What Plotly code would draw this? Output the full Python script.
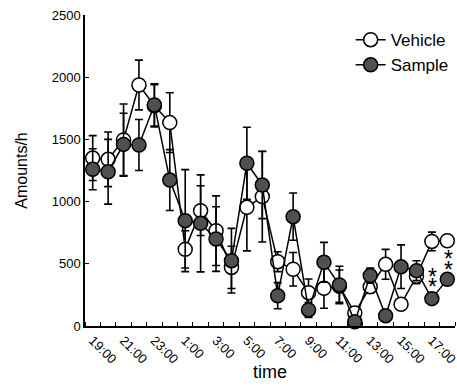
import plotly.graph_objects as go

hours = ["19:00", "20:00", "21:00", "22:00", "23:00", "0:00", "1:00", "2:00",
         "3:00", "4:00", "5:00", "6:00", "7:00", "8:00", "9:00", "10:00",
         "11:00", "12:00", "13:00", "14:00", "15:00", "16:00", "17:00", "18:00"]

vehicle = [1350, 1340, 1495, 1937, 1770, 1635, 616, 927, 766, 471, 954, 1040,
           517, 456, 268, 303, 320, 105, 316, 496, 174, 400, 680, 685]
vehicle_err = [180, 220, 290, 200, 170, 240, 150, 200, 280, 170, 350, 365,
               80, 135, 110, 160, 130, 40, 50, 120, 40, 60, 75, 40]

sample = [1260, 1240, 1460, 1455, 1777, 1173, 847, 825, 699, 525, 1308, 1133,
          244, 879, 129, 512, 330, 35, 405, 83, 477, 445, 220, 375]
sample_err = [165, 260, 250, 205, 170, 245, 410, 390, 260, 260, 290, 270,
              105, 190, 60, 160, 150, 30, 60, 40, 175, 80, 40, 40]

star_hours = ["17:00", "17:00", "18:00", "18:00"]
star_y = [437, 356, 576, 490]

y_ticks = [0, 500, 1000, 1500, 2000, 2500]

FONT = "Liberation Sans, Arial, sans-serif"
x = list(range(len(hours)))

fig = go.Figure()
fig.add_trace(go.Scatter(
    x=x, y=vehicle, name="Vehicle", mode="lines+markers",
    line=dict(color="black", width=1.5),
    marker=dict(symbol="circle", size=14, color="white",
                line=dict(color="black", width=1.5)),
    error_y=dict(type="data", array=vehicle_err, color="black",
                 thickness=1.6, width=4),
    cliponaxis=False))
fig.add_trace(go.Scatter(
    x=x, y=sample, name="Sample", mode="lines+markers",
    line=dict(color="black", width=1.5),
    marker=dict(symbol="circle", size=14, color="#505050",
                line=dict(color="black", width=1.5)),
    error_y=dict(type="data", array=sample_err, color="black",
                 thickness=1.6, width=4),
    cliponaxis=False))

for h, yv in zip(star_hours, star_y):
    fig.add_annotation(x=hours.index(h), y=yv, text="*", showarrow=False,
                       font=dict(family=FONT, size=23, color="black"),
                       yanchor="middle", yshift=-5, xshift=1)

fig.update_layout(
    width=457, height=386,
    margin=dict(l=85, r=2, t=15, b=60),
    paper_bgcolor="white", plot_bgcolor="white",
    font=dict(family=FONT, color="black"),
    showlegend=True,
    legend=dict(x=0.718, y=0.977, xanchor="left", yanchor="top",
                font=dict(family=FONT, size=17, color="black"),
                bgcolor="rgba(0,0,0,0)", itemwidth=30),
    xaxis=dict(
        range=[-0.5, len(hours) - 0.5],
        tickmode="array", tickvals=x[::2], ticktext=hours[::2],
        tickangle=45, ticks="", tickfont=dict(size=13),
        ticklabeloverflow="allow",
        showline=True, linecolor="black", linewidth=1.5,
        showgrid=False, zeroline=False, automargin=False,
        minor=dict(tickmode="array",
                   tickvals=[i - 0.5 for i in range(len(hours) + 1)],
                   ticks="inside", ticklen=4, tickcolor="black",
                   tickwidth=1.2, showgrid=False),
        title=dict(text="time", font=dict(size=18), standoff=0),
    ),
    yaxis=dict(
        range=[0, 2500], tickmode="array", tickvals=y_ticks,
        ticks="inside", ticklen=4, tickcolor="black", tickwidth=1.2,
        tickfont=dict(size=13),
        showline=True, linecolor="black", linewidth=1.5,
        showgrid=False, zeroline=False, automargin=False,
        title=dict(text="Amounts/h", font=dict(size=16), standoff=20),
    ),
)

fig.write_html("out.html", config={"displayModeBar": False},
               post_script="document.body.style.margin='0';")
